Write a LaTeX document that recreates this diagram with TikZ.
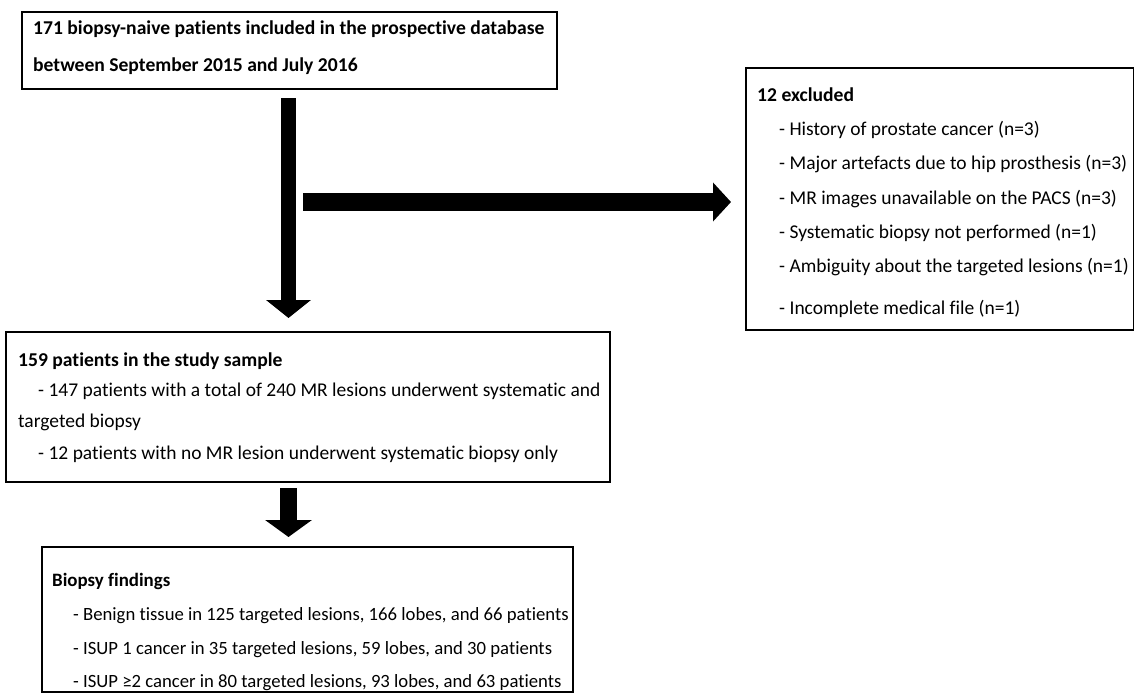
\documentclass[tikz,border=0pt]{standalone}
\usepackage{fontspec}
\setmainfont{Carlito}[Ligatures={NoCommon,NoContextual}]
\usetikzlibrary{arrows.meta}
\begin{document}
\begin{tikzpicture}[x=1pt,y=-1pt,
  box/.style={draw, line width=2.2pt, inner sep=0pt, anchor=north west},
  txt/.style={anchor=west, inner sep=0pt, text height=13pt, text depth=4pt, font=\fontsize{19.5}{23}\selectfont},
  hd/.style={anchor=west, inner sep=0pt, text height=13pt, text depth=4pt, font=\fontsize{19.6}{23}\selectfont\bfseries},
  txts/.style={anchor=west, inner sep=0pt, text height=13pt, text depth=4pt, font=\fontsize{18.7}{23}\selectfont},
  hds/.style={anchor=west, inner sep=0pt, text height=13pt, text depth=4pt, font=\fontsize{18.9}{23}\selectfont\bfseries},
  blockarrow/.style n args={3}{line width=#1, -{Triangle[width=#2,length=#3]}}
]
\useasboundingbox (0,0) rectangle (1134,693);
% boxes
\node[box, minimum width=535pt, minimum height=77pt] (b1) at (21,11) {};
\node[box, minimum width=388pt, minimum height=262pt] (b2) at (745,67) {};
\node[box, minimum width=604pt, minimum height=150pt] (b3) at (5,331) {};
\node[box, minimum width=531pt, minimum height=145pt] (b4) at (41,546) {};
% texts box 1
\node[hd] (t11) at (33,30) {171 biopsy-naive patients included in the prospective database};
\node[hd] (t12) at (33,67) {between September 2015 and July 2016};
% texts box 2
\node[hd] (t21) at (757,97) {12 excluded};
\node[txt] (t22) at (779,131) {- History of prostate cancer (n=3)};
\node[txt] (t23) at (779,165) {- Major artefacts due to hip prosthesis (n=3)};
\node[txt] (t24) at (779,200) {- MR images unavailable on the PACS (n=3)};
\node[txt] (t25) at (779,234) {- Systematic biopsy not performed (n=1)};
\node[txt] (t26) at (779,268) {- Ambiguity about the targeted lesions (n=1)};
\node[txt] (t27) at (779,310) {- Incomplete medical file (n=1)};
% texts box 3
\node[hd] (t31) at (18,362) {159 patients in the study sample};
\node[txt] (t32) at (38,392) {- 147 patients with a total of 240 MR lesions underwent systematic and};
\node[txt] (t33) at (18,423) {targeted biopsy};
\node[txt] (t34) at (38,455) {- 12 patients with no MR lesion underwent systematic biopsy only};
% texts box 4
\node[hds] (t41) at (52,582) {Biopsy findings};
\node[txts] (t42) at (73,616) {- Benign tissue in 125 targeted lesions, 166 lobes, and 66 patients};
\node[txts] (t43) at (73,650) {- ISUP 1 cancer in 35 targeted lesions, 59 lobes, and 30 patients};
\node[txts] (t44) at (73,683) {- ISUP ≥2 cancer in 80 targeted lesions, 93 lobes, and 63 patients};
% arrows
\coordinate (v1) at (288.5,98);
\coordinate (v2) at (288.5,318);
\coordinate (h1) at (303,202);
\coordinate (h2) at (731,202);
\coordinate (s1) at (288.5,488);
\coordinate (s2) at (288.5,537);
\draw[blockarrow={15pt}{44pt}{18pt}] (v1) -- (v2);
\draw[blockarrow={18pt}{38pt}{18pt}] (h1) -- (h2);
\draw[blockarrow={17pt}{46pt}{17pt}] (s1) -- (s2);
\end{tikzpicture}
\end{document}
